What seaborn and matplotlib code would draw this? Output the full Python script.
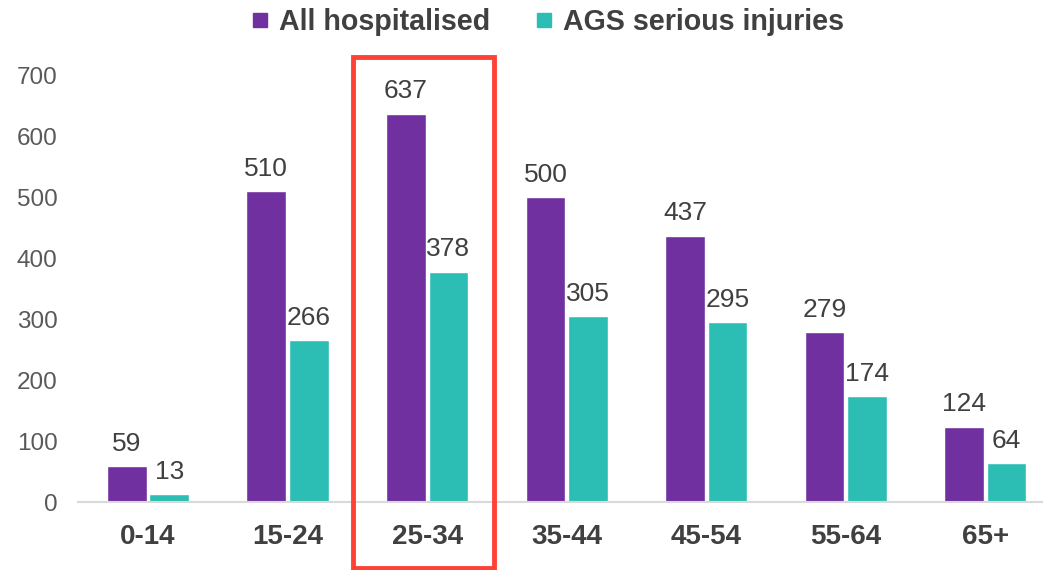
import matplotlib
matplotlib.use("Agg")
import matplotlib.pyplot as plt
import seaborn as sns
import pandas as pd
from matplotlib.patches import Rectangle
from matplotlib.lines import Line2D

categories = ["0-14", "15-24", "25-34", "35-44", "45-54", "55-64", "65+"]
all_hospitalised = [59, 510, 637, 500, 437, 279, 124]
ags_serious = [13, 266, 378, 305, 295, 174, 64]
series_names = ["All hospitalised", "AGS serious injuries"]
colors = ["#7030A0", "#2CBDB5"]
text_color = "#404040"
tick_color = "#595959"

sns.set_theme(style="white")
plt.rcParams['font.family'] = ['Liberation Sans', 'DejaVu Sans']

df = pd.DataFrame({
    "age": categories * 2,
    "value": all_hospitalised + ags_serious,
    "series": [series_names[0]] * len(categories) + [series_names[1]] * len(categories),
})

fig = plt.figure(figsize=(10.43, 5.70), dpi=100)
ax = fig.add_axes([0.075, 0.119, 0.93, 0.749])

sns.barplot(data=df, x="age", y="value", hue="series", palette=colors,
            width=0.61, gap=0.07, ax=ax, legend=False, saturation=1)

for cont in ax.containers:
    ax.bar_label(cont, padding=7.5, fontsize=19, color=text_color)

ax.set_ylim(0, 700)
ax.set_yticks(range(0, 701, 100))
ax.set_xlim(-0.5, 6.45)
ax.set_xlabel("")
ax.set_ylabel("")
ax.tick_params(axis="y", labelsize=17.5, labelcolor=tick_color, length=0, pad=15)
ax.tick_params(axis="x", labelsize=20, labelcolor=text_color, length=0, pad=16)
for lbl in ax.get_xticklabels():
    lbl.set_fontweight("bold")
for s in ["top", "right", "left"]:
    ax.spines[s].set_visible(False)
ax.spines["bottom"].set_color("#D9D9D9")
ax.spines["bottom"].set_linewidth(1.5)

handles = [Line2D([0], [0], marker="s", linestyle="none", markersize=10.5,
                  markerfacecolor=c, markeredgecolor=c) for c in colors]
fig.legend(handles, series_names, loc="center", bbox_to_anchor=(0.525, 0.962),
           ncol=2, frameon=False, handlelength=0.6, handletextpad=0.35,
           columnspacing=1.6, prop={"size": 20.6, "weight": "bold"},
           labelcolor=text_color)

rect = Rectangle((353 / 1043, 1 - 568 / 570), (494 - 353) / 1043, (568 - 57) / 570,
                 transform=fig.transFigure, fill=False, edgecolor="#FF4136",
                 linewidth=3.5)
fig.patches.append(rect)

fig.savefig("out.png", dpi=100)
